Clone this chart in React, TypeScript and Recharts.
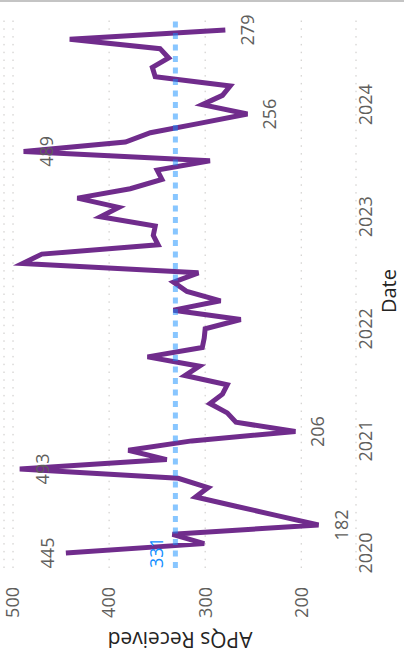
import React from 'react';
import { LineChart, Line, XAxis, YAxis, CartesianGrid, ReferenceLine } from 'recharts';

// monthly APQs received, Jan 2020 .. Sep 2024
const apqsReceived = [
  445, 301, 334, 182, 225, 268, 310, 297, 328, 493, 340, 380,
  314, 206, 268, 277, 295, 282, 277, 321, 306, 360, 303, 301,
  300, 263, 333, 284, 319, 333, 307, 490, 470, 349, 354, 352,
  409, 390, 433, 378, 345, 350, 295, 489, 383, 357, 306, 256,
  303, 282, 274, 352, 355, 338, 347, 441, 279,
];
const yearLabels = ['2020', '2021', '2022', '2023', '2024'];
const valueTicks = [200, 300, 400, 500];
const averageApqs = 331;
const labelledMonths = [0, 3, 9, 13, 43, 47, 56];
const labelsAbove = [0];

const data = apqsReceived.map((v, i) => ({ month: i, apqs: v }));
const yearTicks = yearLabels.map((_, i) => i * 12);

const W = 656;
const H = 404;
const FONT = "'Segoe UI', 'Open Sans', sans-serif";

const PointLabel = (props: any) => {
  const { x, y, value, index } = props;
  if (!labelledMonths.includes(index)) return null;
  const dy = labelsAbove.includes(index) ? -19 : 22;
  return (
    <text x={x} y={y + dy} textAnchor="middle" dominantBaseline="central" fill="#605E5C" fontSize={18} fontFamily={FONT}>
      {value}
    </text>
  );
};

const AvgLabel = (props: any) => {
  const vb = props.viewBox || {};
  return (
    <text x={vb.x} y={vb.y - 19} dominantBaseline="central" fill="#118DFF" fontSize={18} fontFamily={FONT}>
      {averageApqs}
    </text>
  );
};

const App: React.FC = () => {
  return (
    <div style={{ position: 'absolute', left: 0, top: 0, width: H, height: W, overflow: 'hidden', background: '#fff' }}>
      <div style={{ position: 'absolute', left: 0, top: 0, width: H, height: 2, background: '#C4C4C4', zIndex: 2 }} />
      <div
        style={{
          position: 'absolute',
          left: 0,
          top: 0,
          width: W,
          height: H,
          transformOrigin: '0 0',
          transform: `translate(0px, ${W}px) rotate(-90deg)`,
        }}
      >
        <LineChart width={W} height={H} data={data} margin={{ top: 4, right: 20, bottom: 0, left: 0 }}>
          <CartesianGrid vertical={false} stroke="#C8C6C4" strokeDasharray="1.5 6.3" />
          <XAxis
            dataKey="month"
            type="number"
            domain={[-1.61, 57.07]}
            ticks={yearTicks}
            tickFormatter={(v: number) => yearLabels[Math.round(v / 12)]}
            height={48}
            axisLine={false}
            tickLine={false}
            tickSize={0}
            tickMargin={3}
            tick={{ fill: '#605E5C', fontSize: 18, fontFamily: FONT }}
          />
          <YAxis
            type="number"
            domain={[143, 509.4]}
            ticks={valueTicks}
            width={88}
            axisLine={false}
            tickLine={false}
            tickSize={0}
            tickMargin={19}
            tick={{ fill: '#605E5C', fontSize: 18, fontFamily: FONT }}
          />
          <Line
            type="linear"
            dataKey="apqs"
            stroke="#702C8C"
            strokeWidth={5}
            dot={false}
            activeDot={false}
            label={<PointLabel />}
            isAnimationActive={false}
          />
          <ReferenceLine
            y={averageApqs}
            stroke="#118DFF"
            strokeOpacity={0.5}
            strokeWidth={5}
            strokeDasharray="6 5.5"
            label={<AvgLabel />}
          />
        </LineChart>
        <svg width={W} height={H} style={{ position: 'absolute', left: 0, top: 0, pointerEvents: 'none' }}>
          <text x={365} y={396} textAnchor="middle" fill="#252423" fontSize={20} fontFamily={FONT}>
            Date
          </text>
          <text x={24} y={180} transform="rotate(-90 24 180)" textAnchor="middle" fill="#252423" fontSize={21} fontFamily={FONT}>
            APQs Received
          </text>
        </svg>
      </div>
    </div>
  );
};

export default App;
